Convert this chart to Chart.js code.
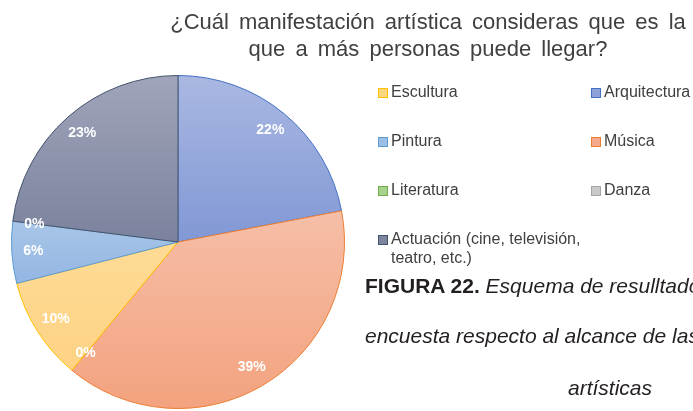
<!DOCTYPE html>
<html>
<head>
<meta charset="utf-8">
<script src="https://cdn.jsdelivr.net/npm/chart.js@4"></script>
<style>
  html, body { margin:0; padding:0; background:#fff; }
  body { width:693px; height:411px; overflow:hidden; position:relative; font-family:"Liberation Sans", Arial, sans-serif; }
  #wrap { position:absolute; left:0; top:0; width:693px; height:411px; }
  .title { position:absolute; left:428px; transform:translateX(-50%); white-space:nowrap; font-size:22px; color:#404040; word-spacing:4px; }
  .leg { position:absolute; font-size:16px; color:#404040; line-height:19px; }
  .leg .sq { position:absolute; left:0; top:4px; width:8px; height:8px; border:1px solid; }
  .leg .tx { position:absolute; left:13px; top:-2px; white-space:nowrap; }
  .cap { position:absolute; white-space:nowrap; font-size:21px; color:#231f20; }
</style>
</head>
<body>
<div id="wrap"><canvas id="c" width="693" height="411"></canvas></div>
<div class="title" style="top:9px;">¿Cuál manifestación artística consideras que es la</div>
<div class="title" style="top:36px;">que a más personas puede llegar?</div>
<div id="legend"></div>
<div class="cap" style="left:365px; top:274px;"><b>FIGURA 22.</b> <i>Esquema de resulltados de la</i></div>
<div class="cap" style="left:365px; top:324px;"><i>encuesta respecto al alcance de las manifestaciones</i></div>
<div class="cap" style="left:568px; top:376px;"><i>artísticas</i></div>
<script>
// Slices, clockwise from 12 o'clock
const categories = ['Arquitectura', 'Música', 'Literatura', 'Escultura', 'Pintura', 'Danza', 'Actuación (cine, televisión, teatro, etc.)'];
const percentValues = [22, 39, 0, 10, 6, 0, 23];
const percentLabels = ['22%', '39%', '0%', '10%', '6%', '0%', '23%'];
// Legend order as shown (two columns, row-wise)
const legendOrder = ['Escultura', 'Arquitectura', 'Pintura', 'Música', 'Literatura', 'Danza', 'Actuación (cine, televisión, teatro, etc.)'];

// Styles
const borderColors = {
  'Arquitectura': '#4472c4', 'Música': '#ed7d31', 'Literatura': '#70ad47', 'Escultura': '#ffc000',
  'Pintura': '#5b9bd5', 'Danza': '#a5a5a5', 'Actuación (cine, televisión, teatro, etc.)': '#44546a'
};
const legendFill = {
  'Arquitectura': '#8da2d9', 'Música': '#f4a98a', 'Literatura': '#a9d18e', 'Escultura': '#fdd680',
  'Pintura': '#9dbfe6', 'Danza': '#c9c9c9', 'Actuación (cine, televisión, teatro, etc.)': '#7d849f'
};
// gradient stops [t, color] across pie height
const gradStops = {
  'Arquitectura': [[0, '#aab8e2'], [0.5, '#8198d5']],
  'Música': [[0.42, '#f6bea7'], [1, '#f3a27e']],
  'Literatura': [[0, '#b5d89e'], [1, '#a2cd86']],
  'Escultura': [[0.5, '#fedb96'], [0.9, '#fdd283']],
  'Pintura': [[0.42, '#aac7e9'], [0.62, '#94b6e2']],
  'Danza': [[0, '#d0d0d0'], [1, '#bdbdbd']],
  'Actuación (cine, televisión, teatro, etc.)': [[0, '#a0a5bb'], [0.5, '#7b829d']]
};

// Legend (HTML)
const legPos = [[378, 84], [591, 84], [378, 133], [591, 133], [378, 182], [591, 182], [378, 231]];
const legEl = document.getElementById('legend');
legendOrder.forEach((name, i) => {
  const d = document.createElement('div');
  d.className = 'leg';
  d.style.left = legPos[i][0] + 'px';
  d.style.top = legPos[i][1] + 'px';
  const sq = document.createElement('div');
  sq.className = 'sq';
  sq.style.background = legendFill[name];
  sq.style.borderColor = borderColors[name];
  const tx = document.createElement('div');
  tx.className = 'tx';
  if (name.startsWith('Actuación')) {
    tx.innerHTML = 'Actuación (cine, televisión,<br>teatro, etc.)';
  } else {
    tx.textContent = name;
  }
  d.appendChild(sq); d.appendChild(tx);
  legEl.appendChild(d);
});

const labelPlugin = {
  id: 'pctLabels',
  afterDatasetsDraw(chart) {
    const ctx = chart.ctx;
    const meta = chart.getDatasetMeta(0);
    ctx.save();
    ctx.fillStyle = '#ffffff';
    ctx.font = 'bold 14px "Liberation Sans", Arial, sans-serif';
    ctx.textAlign = 'center';
    ctx.textBaseline = 'middle';
    meta.data.forEach((arc, i) => {
      const p = arc.getProps(['x', 'y', 'startAngle', 'endAngle', 'outerRadius'], true);
      const mid = (p.startAngle + p.endAngle) / 2;
      const r = p.outerRadius * 0.87;
      ctx.fillText(percentLabels[i], p.x + Math.cos(mid) * r, p.y + Math.sin(mid) * r);
    });
    ctx.restore();
  }
};

new Chart(document.getElementById('c'), {
  type: 'pie',
  data: {
    labels: categories,
    datasets: [{
      data: percentValues,
      backgroundColor: (c) => {
        const name = categories[c.dataIndex];
        const area = c.chart.chartArea;
        if (!area) return legendFill[name];
        const g = c.chart.ctx.createLinearGradient(0, area.top, 0, area.bottom);
        gradStops[name].forEach(s => g.addColorStop(s[0], s[1]));
        return g;
      },
      borderColor: categories.map(n => borderColors[n]),
      borderWidth: 1
    }]
  },
  options: {
    responsive: false,
    animation: false,
    layout: { padding: { left: 11, right: 348, top: 74, bottom: 1 } },
    plugins: { legend: { display: false }, tooltip: { enabled: false }, title: { display: false } }
  },
  plugins: [labelPlugin]
});
</script>
</body>
</html>
